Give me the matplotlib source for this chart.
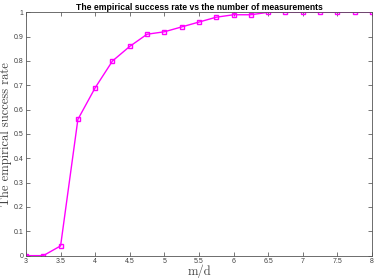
import matplotlib
matplotlib.use("Agg")
import matplotlib.pyplot as plt

# measurement ratio m/d and empirical success rate
ratio = [3, 3.25, 3.5, 3.75, 4, 4.25, 4.5, 4.75, 5, 5.25, 5.5,
         5.75, 6, 6.25, 6.5, 6.75, 7, 7.25, 7.5, 7.75, 8]
success = [0, 0, 0.04, 0.56, 0.69, 0.80, 0.86, 0.91, 0.92, 0.94, 0.96,
           0.98, 0.99, 0.99, 1, 1, 1, 1, 1, 1, 1]
xticks = [3, 3.5, 4, 4.5, 5, 5.5, 6, 6.5, 7, 7.5, 8]
yticks = [0, 0.1, 0.2, 0.3, 0.4, 0.5, 0.6, 0.7, 0.8, 0.9, 1]

fig = plt.figure(figsize=(3.74, 2.8), dpi=100)
ax = fig.add_axes([0.0695, 0.087, 0.925, 0.869])

ax.plot(ratio, success, color='magenta', lw=1.0, marker='s', ms=3,
        mfc='none', mec='magenta', mew=1.0)

ax.set_xlim(3, 8)
ax.set_ylim(0, 1)
ax.set_xticks(xticks)
ax.set_yticks(yticks)
ax.set_xticklabels([f'{v:g}' for v in xticks])
ax.set_yticklabels([f'{v:g}' for v in yticks])
ax.tick_params(direction='in', top=True, right=True, length=3, width=0.5,
               labelsize=5, colors='#404040', pad=2)
for s in ax.spines.values():
    s.set_linewidth(0.6)
    s.set_color('#555555')
for lab in ax.get_xticklabels() + ax.get_yticklabels():
    lab.set_family('Liberation Sans')

ax.set_title('The empirical success rate vs the number of measurements',
             fontsize=6.2, fontweight='bold', family='Liberation Sans', pad=2)
ax.set_xlabel('m/d', fontsize=9, family='cmr10', labelpad=-1, color='#404040')
ax.set_ylabel('The empirical success rate', fontsize=9, family='cmr10',
              labelpad=1, color='#404040')

fig.savefig('out.png', dpi=100)
